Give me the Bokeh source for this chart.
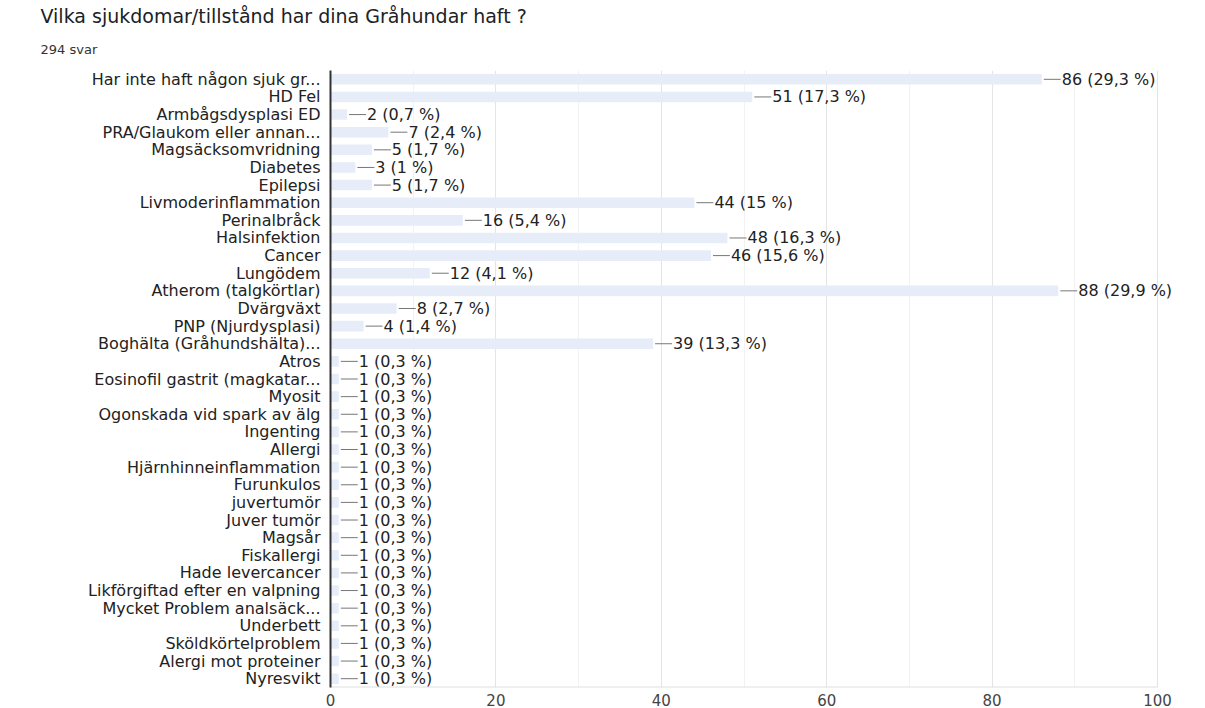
from bokeh.plotting import figure
from bokeh.models import Range1d, FixedTicker, ColumnDataSource, Title
from bokeh.core.properties import value
from bokeh.embed import file_html
from bokeh.resources import INLINE

TITLE = "Vilka sjukdomar/tillstånd har dina Gråhundar haft ?"
SUBTITLE = "294 svar"
TOTAL = 294

categories = [
    "Har inte haft någon sjuk gr...",
    "HD Fel",
    "Armbågsdysplasi ED",
    "PRA/Glaukom eller annan...",
    "Magsäcksomvridning",
    "Diabetes",
    "Epilepsi",
    "Livmoderinflammation",
    "Perinalbråck",
    "Halsinfektion",
    "Cancer",
    "Lungödem",
    "Atherom (talgkörtlar)",
    "Dvärgväxt",
    "PNP (Njurdysplasi)",
    "Boghälta (Gråhundshälta)...",
    "Atros",
    "Eosinofil gastrit (magkatar...",
    "Myosit",
    "Ogonskada vid spark av älg",
    "Ingenting",
    "Allergi",
    "Hjärnhinneinflammation",
    "Furunkulos",
    "juvertumör",
    "Juver tumör",
    "Magsår",
    "Fiskallergi",
    "Hade levercancer",
    "Likförgiftad efter en valpning",
    "Mycket Problem analsäck...",
    "Underbett",
    "Sköldkörtelproblem",
    "Alergi mot proteiner",
    "Nyresvikt",
]
counts = [86, 51, 2, 7, 5, 3, 5, 44, 16, 48, 46, 12, 88, 8, 4, 39,
          1, 1, 1, 1, 1, 1, 1, 1, 1, 1, 1, 1, 1, 1, 1, 1, 1, 1, 1]
x_ticks = [0, 20, 40, 60, 80, 100]
x_minor = [10, 30, 50, 70, 90]
X_MAX = 100


def fmt_pct(c):
    p = round(c / TOTAL * 100, 1)
    s = ("%.1f" % p).rstrip("0").rstrip(".")
    return s.replace(".", ",")


N = len(categories)
ypos = list(range(N))
labels = ["%d (%s %%)" % (c, fmt_pct(c)) for c in counts]

# layout (pixels)
W, H = 1205, 708
LEFT, RIGHT_OF_100 = 330, 1157
PX_PER_UNIT = (RIGHT_OF_100 - LEFT) / X_MAX
x_end = (W - LEFT) / PX_PER_UNIT          # frame extends past 100 so labels fit
LEADER = 19 / PX_PER_UNIT                  # leader line ~19 px

src = ColumnDataSource(dict(
    y=ypos, val=counts, lab=labels,
    x0=[c + 0.25 for c in counts], x1=[c + LEADER for c in counts],
))

FONT = "DejaVu Sans"

p = figure(
    width=W, height=H,
    y_range=Range1d(N - 0.5, -0.5),
    x_range=Range1d(0, x_end),
    output_backend="svg", toolbar_location=None,
    min_border_left=LEFT, min_border_right=0, min_border_top=70, min_border_bottom=0,
)
p.title.visible = False
p.outline_line_color = None

p.add_layout(Title(text=SUBTITLE, text_font=FONT, text_font_size="13px",
                   text_font_style="normal", text_color="#333333",
                   align="left", offset=-(LEFT - 40), standoff=27), "above")
p.add_layout(Title(text=TITLE, text_font=FONT, text_font_size="19px",
                   text_font_style="normal", text_color="#202124",
                   align="left", offset=-(LEFT - 40), standoff=0), "above")

# baseline of the value axis (0..100 only)
p.segment(x0=[0], x1=[X_MAX], y0=[N - 0.5], y1=[N - 0.5],
          line_color="#e0e0e0", line_width=2)

p.hbar(y="y", right="val", left=0, height=0.6, source=src,
       fill_color="#e6edf8", line_color=None)
p.segment(x0="x0", x1="x1", y0="y", y1="y", source=src,
          line_color="#777777", line_width=1)
p.text(x="x1", y="y", text="lab", source=src, x_offset=1,
       text_font=value(FONT), text_font_size="16px", text_color="#222222",
       text_baseline="middle", text_align="left")

p.xaxis.ticker = FixedTicker(ticks=x_ticks, minor_ticks=x_minor)
p.xaxis.axis_line_color = None
p.xaxis.major_tick_line_color = None
p.xaxis.minor_tick_line_color = None
p.xaxis.major_label_text_font = FONT
p.xaxis.major_label_text_font_size = "15px"
p.xaxis.major_label_text_color = "#444444"
p.xaxis.major_label_standoff = 0

p.yaxis.ticker = FixedTicker(ticks=ypos)
p.yaxis.major_label_overrides = {i: c for i, c in zip(ypos, categories)}
p.yaxis.axis_line_color = "#333333"
p.yaxis.axis_line_width = 2
p.yaxis.major_tick_line_color = None
p.yaxis.minor_tick_line_color = None
p.yaxis.major_label_text_font = FONT
p.yaxis.major_label_text_font_size = "16px"
p.yaxis.major_label_text_color = "#222222"
p.yaxis.major_label_standoff = 4

p.ygrid.grid_line_color = None
p.xgrid.grid_line_color = "#e4e4e4"
p.xgrid.minor_grid_line_color = "#f2f2f2"

open("out.html", "w").write(file_html(p, INLINE))
